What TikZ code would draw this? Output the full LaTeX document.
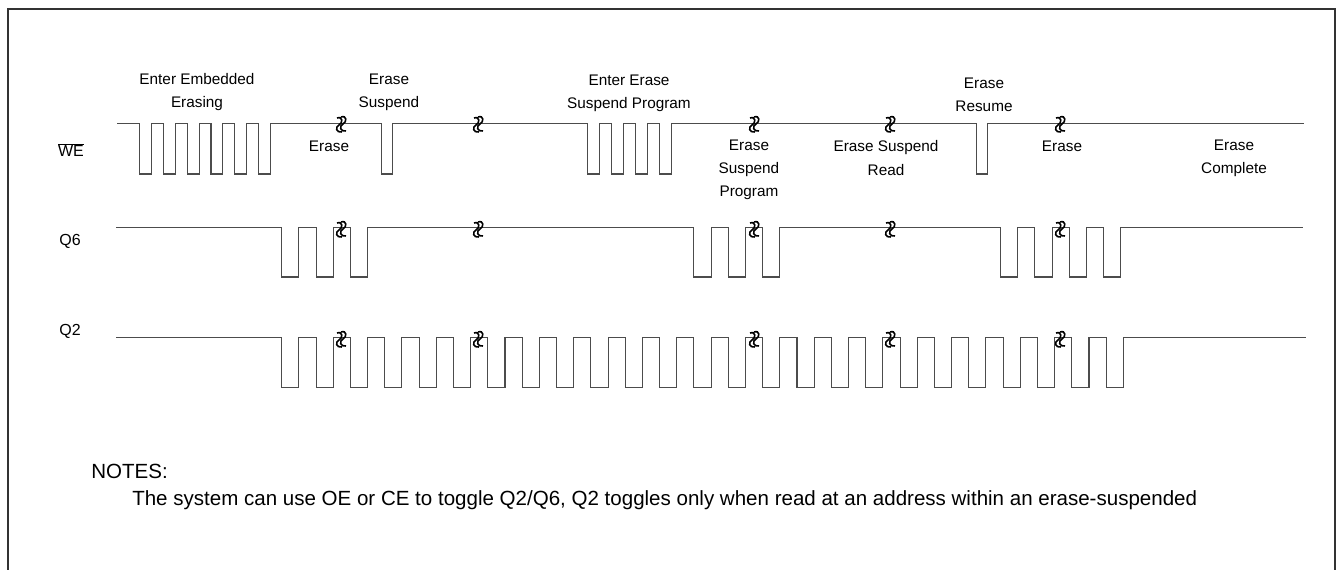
\documentclass[tikz,border=0pt]{standalone}
\usepackage{fontspec}
\setmainfont{Liberation Sans}
\usetikzlibrary{positioning}

\begin{document}
\begin{tikzpicture}[x=0.75pt, y=-0.75pt,
    wave/.style={draw=black!70, line width=0.8pt},
    lbl/.style={font=\fontsize{11.5}{17.3}\selectfont, align=center, inner sep=0pt},
    sig/.style={font=\fontsize{12}{14}\selectfont, inner sep=0pt},
    note/.style={font=\fontsize{15.4}{18}\selectfont, anchor=west, inner sep=0pt},
    brk/.pic={\draw[line width=1.2pt, black]
        (-4,-7) .. controls (2,-9) and (2,-2) .. (-2,0) .. controls (-6,2) and (-5,8) .. (1,7)
        (0,-8) .. controls (6,-10) and (6,-3) .. (2,-1) .. controls (-2,1) and (-1,7) .. (5,6);}]
    \useasboundingbox (0,0) rectangle (1338,570);
    \draw[black!80, line width=0.8pt] (8,570) -- (8,9) -- (1335,9) -- (1335,570);

    \node[sig] (we) at (71,150) {$\overline{\hbox{WE}}$};
    \node[sig] (q6) at (70,241) {Q6};
    \node[sig] (q2) at (70,331) {Q2};

    \draw[wave] (117,123.5)
        \foreach \i in {0,...,5} { -- ({139.3+23.9*\i},123.5) -- ++(0,50.5) -- ++(11.95,0) -- ++(0,-50.5) }
        -- (381.7,123.5) -- ++(0,50.5) -- ++(11,0) -- ++(0,-50.5)
        \foreach \i in {0,...,3} { -- ({587.7+24*\i},123.5) -- ++(0,50.5) -- ++(12,0) -- ++(0,-50.5) }
        -- (976.7,123.5) -- ++(0,50.5) -- ++(11,0) -- ++(0,-50.5)
        -- (1304,123.5);
    \draw[wave] (116,227.7)
        \foreach \i in {0,1,2,12,13,14} { -- ({281.7+34.352*\i},227.7) -- ++(0,49.3) -- ++(17.176,0) -- ++(0,-49.3) }
        \foreach \i in {21,...,24} { -- ({279.2+34.352*\i},227.7) -- ++(0,49.3) -- ++(17.176,0) -- ++(0,-49.3) }
        -- (1303,227.7);
    \draw[wave] (116,337.7)
        \foreach \i in {0,...,24} { -- ({281.7+34.352*\i},337.7) -- ++(0,49.6) -- ++(17.176,0) -- ++(0,-49.6) }
        -- (1306,337.7);

    \foreach \x in {341,478,754,890,1060}
        \foreach \y in {125,230,340}
            \pic at (\x,\y) {brk};

    \node[lbl] (embedded) at (197,92) {Enter Embedded\\Erasing};
    \node[lbl] (erase1) at (329,146) {Erase};
    \node[lbl] (suspend) at (389,92) {Erase\\Suspend};
    \node[lbl] (enterprog) at (629,93) {Enter Erase\\Suspend Program};
    \node[lbl] (suspprog) at (749,170) {Erase\\Suspend\\Program};
    \node[lbl] (suspread) at (886,158) {Erase Suspend\\Read};
    \node[lbl] (resume) at (984,95) {Erase\\Resume};
    \node[lbl] (erase2) at (1062,146) {Erase};
    \node[lbl] (complete) at (1234,158) {Erase\\Complete};

    \node[note] (notes) at (91,471) {NOTES:};
    \node[note] (notetext) at (132,500) {The system can use OE or CE to toggle Q2/Q6, Q2 toggles only when read at an address within an erase-suspended};
\end{tikzpicture}
\end{document}
